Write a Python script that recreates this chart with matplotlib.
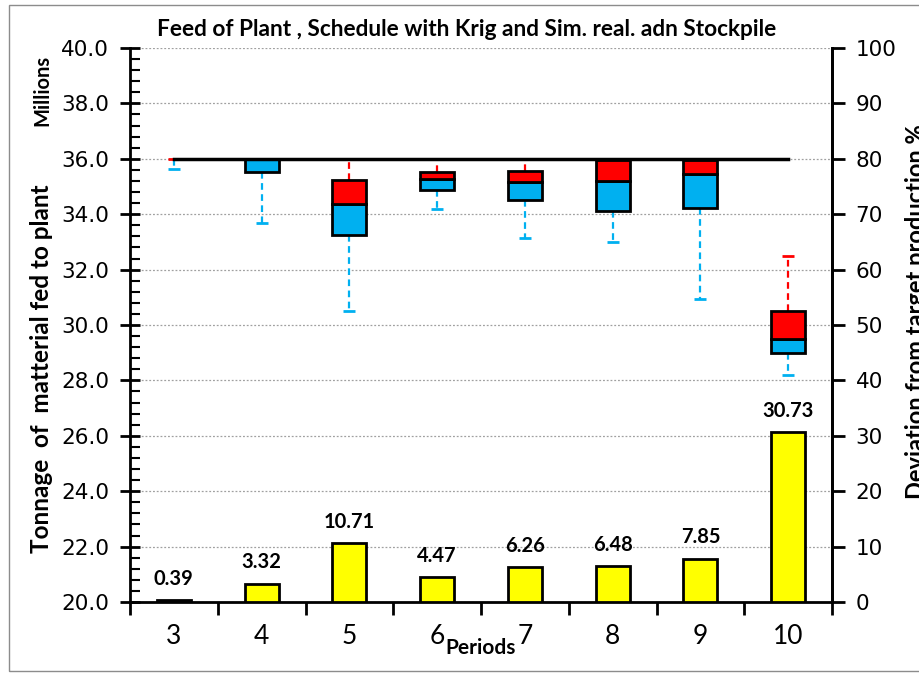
import numpy as np
import matplotlib
matplotlib.use('Agg')
import matplotlib.pyplot as plt
from matplotlib.patches import Rectangle
from matplotlib.ticker import MultipleLocator

# -----------------------------
# Data: plant feed per period (millions of tonnes) and deviation (%)
# -----------------------------
periods = ['3', '4', '5', '6', '7', '8', '9', '10']
feed_q1 = [36.00, 35.51, 33.26, 34.88, 34.51, 34.12, 34.22, 29.00]
feed_median = [36.00, 36.00, 34.38, 35.28, 35.15, 35.19, 35.44, 29.48]
feed_q3 = [36.00, 36.00, 35.22, 35.51, 35.56, 35.96, 35.96, 30.49]
feed_min = [35.62, 33.68, 30.52, 34.19, 33.13, 33.01, 30.93, 28.20]
feed_max = [36.00, 36.00, 36.00, 36.00, 36.00, 35.96, 35.96, 32.48]
target_feed = [36.0] * 8
deviation_pct = [0.39, 3.32, 10.71, 4.47, 6.26, 6.48, 7.85, 30.73]

BLUE = '#00B0F0'
RED = '#FF0000'
YELLOW = '#FFFF00'
LABEL_FONT = 'Lato'

x = np.arange(len(periods))
q1 = np.array(feed_q1)
med = np.array(feed_median)
q3 = np.array(feed_q3)
width = 0.39

fig = plt.figure(figsize=(9.19, 6.74), dpi=100)
ax = fig.add_axes([130 / 919, 1 - 602 / 674, (832 - 130) / 919, (602 - 48) / 674])

# grid on major left ticks
ax.set_ylim(20, 40)
ax.set_xlim(-0.5, len(periods) - 0.5)
ax.yaxis.set_major_locator(MultipleLocator(2))
ax.yaxis.set_minor_locator(MultipleLocator(0.4))
ax.grid(axis='y', which='major', color='#A0A0A0', linestyle=(0, (1.5, 1.5)), linewidth=0.9, zorder=0)
ax.set_axisbelow(True)

# whiskers
ax.vlines(x, q1, feed_min, colors=BLUE, linestyles=(0, (3, 2)), linewidth=1.6, zorder=2)
ax.plot(x, feed_min, linestyle='none', marker='_', ms=8, mew=2, color=BLUE, zorder=2)
ax.vlines(x, q3, feed_max, colors=RED, linestyles=(0, (3, 2)), linewidth=1.6, zorder=2)
ax.plot(x, feed_max, linestyle='none', marker='_', ms=8, mew=2, color=RED, zorder=2)

# stacked boxes: q1 -> median (blue), median -> q3 (red); empty segments get no outline
def box_segment(bottom, top, color):
    h = top - bottom
    lw = [2 if v > 0.005 else 0 for v in h]
    ax.bar(x, h, width, bottom=bottom, color=color, edgecolor='black', linewidth=lw, zorder=3)

box_segment(q1, med, BLUE)
box_segment(med, q3, RED)

# target feed line
ax.plot(x, target_feed, color='black', linewidth=2.5, zorder=4)

ax.set_yticks(np.arange(20, 40.1, 2))
ax.set_yticklabels([f'{v:.1f}' for v in np.arange(20, 40.1, 2)])
ax.tick_params(axis='y', which='major', direction='inout', length=14, width=2, labelsize=15.5, pad=8)
ax.tick_params(axis='y', which='minor', direction='in', length=7, width=1.5)
ax.set_xticks(x)
ax.set_xticklabels(periods, fontfamily=LABEL_FONT)
ax.set_xticks(np.arange(-0.5, len(periods)), minor=True)
ax.tick_params(axis='x', which='major', length=0, labelsize=19, pad=16)
ax.tick_params(axis='x', which='minor', direction='out', length=9, width=2)
for side in ['left', 'bottom', 'right']:
    ax.spines[side].set_linewidth(2)
ax.spines['top'].set_visible(False)

# deviation bars on secondary axis
ax2 = ax.twinx()
ax2.set_ylim(0, 100)
ax2.yaxis.set_major_locator(MultipleLocator(10))
bars = ax2.bar(x, deviation_pct, width, color=YELLOW, edgecolor='black', linewidth=2, zorder=3)
for b, v in zip(bars, deviation_pct):
    ax2.annotate(f'{v:.2f}', (b.get_x() + b.get_width() / 2, v), xytext=(0, 8),
                 textcoords='offset points', ha='center', va='bottom',
                 fontsize=14.5, fontweight='bold', fontfamily=LABEL_FONT)
ax2.tick_params(axis='y', direction='out', length=9, width=2, labelsize=15.5, pad=8)
ax2.spines['right'].set_linewidth(2)
ax2.spines['top'].set_visible(False)
ax2.spines['left'].set_visible(False)
ax2.spines['bottom'].set_visible(False)

ax.set_xlabel('Periods', fontfamily=LABEL_FONT, fontweight='bold', fontsize=15, labelpad=-8)
fig.text(42 / 919, 1 - 369 / 674, 'Tonnage  of  matterial fed to plant', rotation=90,
         ha='center', va='center', fontfamily=LABEL_FONT, fontweight='bold', fontsize=17.5)
fig.text(42 / 919, 1 - 90 / 674, 'Millions', rotation=90, ha='center', va='center',
         fontfamily=LABEL_FONT, fontweight='bold', fontsize=14.5)
fig.text(905 / 919, 1 - 312 / 674, 'Deviation from target production %', rotation=90,
         ha='left', va='center', fontfamily=LABEL_FONT, fontweight='bold', fontsize=17)
fig.text(467 / 919, 1 - 30 / 674, 'Feed of Plant , Schedule with Krig and Sim. real. adn Stockpile',
         ha='center', va='center', fontfamily=LABEL_FONT, fontweight='bold', fontsize=16.3)

# chart border
fig.patches.append(Rectangle((9 / 919, 3 / 674), 1.0, 1 - 8 / 674, transform=fig.transFigure,
                             fill=False, edgecolor='#8C8C8C', linewidth=1))

fig.savefig('out.png', dpi=100)
